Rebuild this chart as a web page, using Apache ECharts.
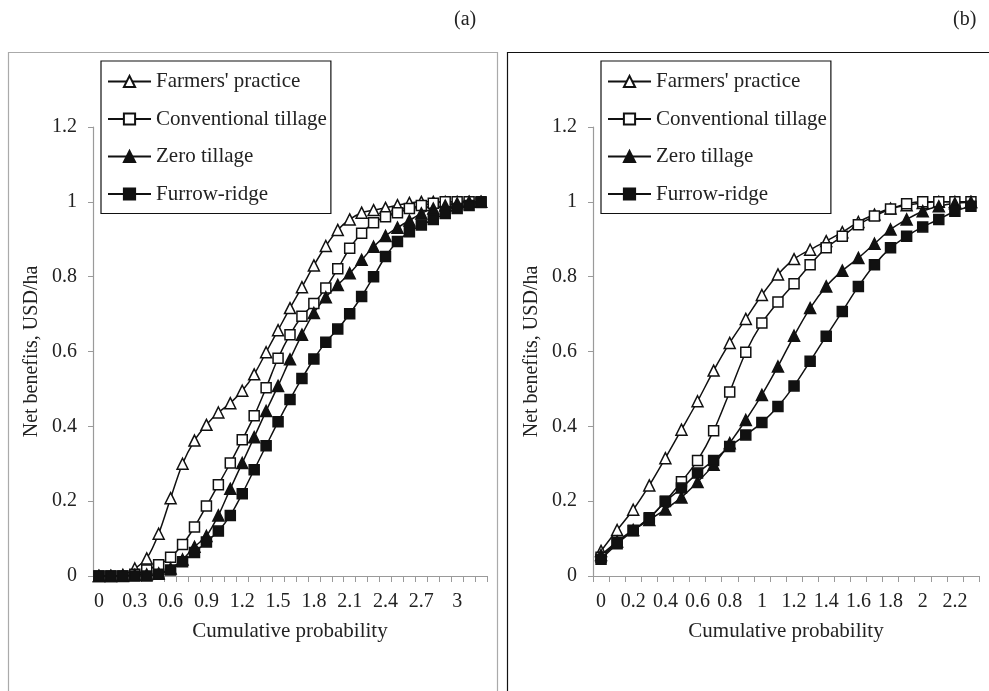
<!DOCTYPE html>
<html>
<head>
<meta charset="utf-8">
<script src="https://cdn.jsdelivr.net/npm/echarts@6/dist/echarts.min.js"></script>
<style>
html,body{margin:0;padding:0;background:#fff;}
#chart{width:989px;height:691px;}
</style>
</head>
<body>
<div id="chart"></div>
<script>
// ---- Data ----
const seriesNames = ["Farmers' practice", "Conventional tillage", "Zero tillage", "Furrow-ridge"];
const yTicks = ['0','0.2','0.4','0.6','0.8','1','1.2'];

// Panel (a)
const catsA = ['0','0.1','0.2','0.3','0.4','0.5','0.6','0.7','0.8','0.9','1','1.1','1.2','1.3','1.4','1.5','1.6','1.7','1.8','1.9','2','2.1','2.2','2.3','2.4','2.5','2.6','2.7','2.8','2.9','3','3.1','3.2'];
const farmersA = [0,0,0.003,0.02,0.047,0.113,0.208,0.30,0.362,0.404,0.437,0.462,0.495,0.539,0.598,0.657,0.716,0.772,0.83,0.882,0.925,0.953,0.971,0.978,0.984,0.991,0.997,1,1,1,1,1,1];
const conventionalA = [0,0,0,0.005,0.016,0.03,0.05,0.084,0.131,0.187,0.244,0.302,0.364,0.428,0.503,0.582,0.645,0.694,0.728,0.77,0.821,0.876,0.916,0.944,0.96,0.971,0.982,0.99,0.996,1,1,1,1];
const zeroA = [0,0,0,0.003,0.004,0.007,0.02,0.044,0.078,0.107,0.162,0.233,0.302,0.371,0.441,0.508,0.579,0.645,0.703,0.745,0.778,0.809,0.845,0.88,0.909,0.931,0.95,0.969,0.982,0.99,0.996,1,1];
const furrowA = [0,0,0,0,0,0.005,0.016,0.038,0.063,0.091,0.12,0.162,0.22,0.284,0.348,0.412,0.472,0.528,0.58,0.625,0.66,0.701,0.747,0.80,0.854,0.894,0.92,0.938,0.953,0.969,0.982,0.99,0.998];

// Panel (b)
const catsB = ['0','0.1','0.2','0.3','0.4','0.5','0.6','0.7','0.8','0.9','1','1.1','1.2','1.3','1.4','1.5','1.6','1.7','1.8','1.9','2','2.1','2.2','2.3'];
const farmersB = [0.067,0.123,0.177,0.242,0.315,0.391,0.467,0.549,0.623,0.687,0.751,0.806,0.847,0.872,0.895,0.919,0.946,0.966,0.982,0.991,0.997,1,1,1];
const conventionalB = [0.05,0.09,0.122,0.156,0.2,0.252,0.309,0.388,0.492,0.598,0.676,0.732,0.781,0.832,0.877,0.908,0.939,0.962,0.981,0.995,1,1,1,1];
const zeroB = [0.056,0.092,0.123,0.15,0.178,0.21,0.251,0.297,0.355,0.417,0.484,0.56,0.642,0.716,0.774,0.816,0.85,0.888,0.926,0.953,0.975,0.988,0.996,0.999];
const furrowB = [0.045,0.086,0.121,0.154,0.199,0.235,0.275,0.309,0.346,0.377,0.41,0.453,0.508,0.574,0.641,0.707,0.774,0.832,0.877,0.908,0.933,0.953,0.975,0.988];

// ---- Styles ----
const FONT = "'Liberation Serif','DejaVu Serif','Times New Roman',serif";
const TXT = '#222';
const AX = '#9a9a9a';
const symbolDefs = [
  {symbol:'triangle', fill:'#fff'},
  {symbol:'rect', fill:'#fff'},
  {symbol:'triangle', fill:'#111'},
  {symbol:'rect', fill:'#111'}
];

function mkSeries(data, idx, gi) {
  const d = symbolDefs[idx];
  return {
    name: seriesNames[idx],
    type: 'line',
    xAxisIndex: gi, yAxisIndex: gi,
    data: data,
    smooth: 0.3,
    symbol: d.symbol,
    symbolSize: d.symbol === 'rect' ? 10 : 11,
    showAllSymbol: true,
    lineStyle: {color:'#111', width:1.5},
    itemStyle: {color: d.fill, borderColor:'#111', borderWidth:1.5},
    emphasis: {disabled:true},
    animation: false,
    z: 2
  };
}

function xAxis(gi, cats, interval) {
  return {
    type:'category', gridIndex: gi, data: cats, boundaryGap: true,
    name:'Cumulative probability', nameLocation:'middle', nameGap:45,
    nameTextStyle:{fontFamily:FONT, fontSize:21, color:TXT},
    axisLine:{lineStyle:{color:AX, width:1.2}},
    axisTick:{show:true, interval:0, length:6, inside:false, lineStyle:{color:AX}},
    axisLabel:{interval: interval, fontFamily:FONT, fontSize:20, color:TXT, margin:16},
    splitLine:{show:false}
  };
}
function yAxis(gi) {
  return {
    type:'value', gridIndex: gi, min:0, max:1.2, interval:0.2,
    name:'Net benefits, USD/ha', nameLocation:'middle', nameGap:51,
    nameTextStyle:{fontFamily:FONT, fontSize:20, color:TXT},
    axisLine:{show:true, lineStyle:{color:AX, width:1.2}},
    axisTick:{show:true, length:5, lineStyle:{color:AX}},
    axisLabel:{fontFamily:FONT, fontSize:20, color:TXT, margin:16,
      formatter: v => yTicks[Math.round(v/0.2)]},
    splitLine:{show:false}
  };
}
function legend(left) {
  return {
    orient:'vertical', left:left, top:61,
    data: seriesNames.map(n => ({name:n})),
    backgroundColor:'#fff', borderColor:'#111', borderWidth:1.2,
    padding:[10,4,9,6], itemGap:16.5, itemWidth:43, itemHeight:14,
    textStyle:{fontFamily:FONT, fontSize:21, color:TXT},
    selectedMode:false, z:5
  };
}

const chart = echarts.init(document.getElementById('chart'));
chart.setOption({
  animation:false,
  backgroundColor:'#fff',
  grid:[
    {left:93, width:394, top:127, height:449},
    {left:593, width:386, top:127, height:449}
  ],
  xAxis:[xAxis(0, catsA, 2), xAxis(1, catsB, 1)],
  yAxis:[yAxis(0), yAxis(1)],
  legend:[legend(101), legend(601)],
  graphic:[
    {type:'rect', shape:{x:8.5, y:52.5, width:489, height:700}, style:{fill:'none', stroke:'#aaa', lineWidth:1.2}, z:-1},
    {type:'rect', shape:{x:507.5, y:52.5, width:500, height:700}, style:{fill:'none', stroke:'#111', lineWidth:1.2}, z:-1},
    {type:'text', left:454, top:10, style:{text:'(a)', font:"20px "+FONT, fill:TXT}},
    {type:'text', left:953, top:10, style:{text:'(b)', font:"20px "+FONT, fill:TXT}}
  ],
  series:[
    mkSeries(farmersA,0,0), mkSeries(conventionalA,1,0), mkSeries(zeroA,2,0), mkSeries(furrowA,3,0),
    mkSeries(farmersB,0,1), mkSeries(conventionalB,1,1), mkSeries(zeroB,2,1), mkSeries(furrowB,3,1)
  ]
});
</script>
</body>
</html>
